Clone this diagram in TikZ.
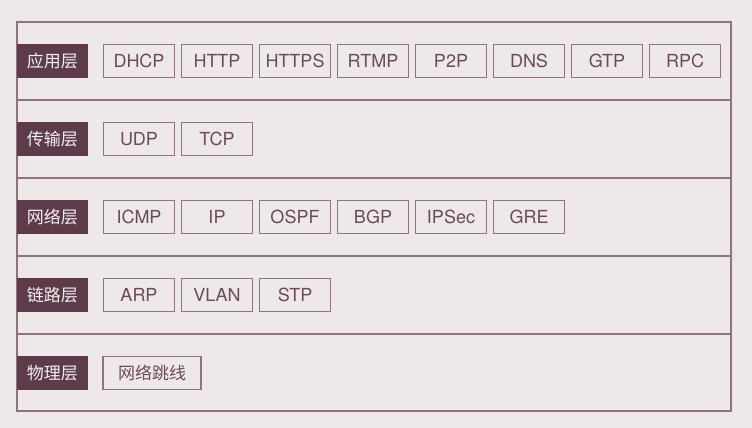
\documentclass[tikz,border=0pt]{standalone}
\usepackage{fontspec}
\setmainfont{TeX Gyre Heros}
\newfontfamily\cjk{Noto Sans CJK SC}
\usetikzlibrary{positioning}
\definecolor{bgcol}{HTML}{EEE8E9}
\definecolor{layercol}{HTML}{5E3B4B}
\definecolor{linecol}{HTML}{8E727C}
\definecolor{textcol}{HTML}{6A4C58}

\begin{document}
\begin{tikzpicture}[x=1pt,y=-1pt]
    \tikzstyle{layer}=[fill=layercol, text=white!92!layercol, minimum width=71pt, minimum height=34pt, inner sep=0pt, font=\cjk\fontsize{17}{17}\selectfont]
    \tikzstyle{proto}=[draw=linecol, line width=1.3pt, text=textcol, minimum width=71pt, minimum height=33pt, inner sep=0pt, font=\fontsize{18}{18}\selectfont]
    \tikzstyle{frame}=[draw=linecol, line width=1.3pt]

    % background and page size
    \fill[bgcol] (0,0) rectangle (752,428);
    \useasboundingbox (0,0) rectangle (752,428);

    % outer frame and the lines between the layers
    \draw[frame] (17,22) rectangle (731,411);
    \foreach \y in {100,178,256,334}
        \draw[frame] (17,\y) -- (731,\y);

    % layer names
    \node[layer] (L-app) at (52.5,61) {应用层};
    \node[layer] (L-trans) at (52.5,139) {传输层};
    \node[layer] (L-net) at (52.5,217) {网络层};
    \node[layer] (L-link) at (52.5,295) {链路层};
    \node[layer] (L-phys) at (52.5,373) {物理层};

    % protocols of each layer
    \foreach \t [count=\i] in {DHCP,HTTP,HTTPS,RTMP,P2P,DNS,GTP,RPC}
        \node[proto] (app-\i) at ({139+78*(\i-1)},61) {\t};
    \foreach \t [count=\i] in {UDP,TCP}
        \node[proto] (trans-\i) at ({139+78*(\i-1)},139) {\t};
    \foreach \t [count=\i] in {ICMP,IP,OSPF,BGP,IPSec,GRE}
        \node[proto] (net-\i) at ({139+78*(\i-1)},217) {\t};
    \foreach \t [count=\i] in {ARP,VLAN,STP}
        \node[proto] (link-\i) at ({139+78*(\i-1)},295) {\t};
    \node[proto, minimum width=98pt, font=\cjk\fontsize{17}{17}\selectfont] (phys-1) at (152,373) {网络跳线};
\end{tikzpicture}
\end{document}
